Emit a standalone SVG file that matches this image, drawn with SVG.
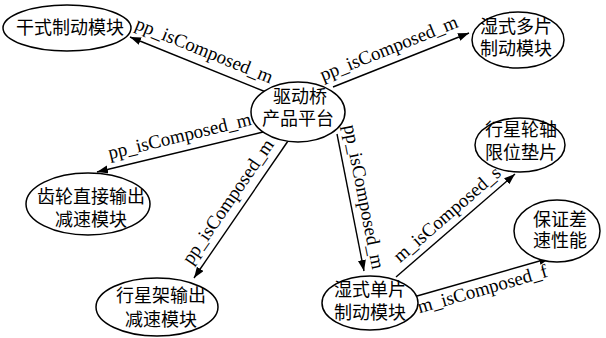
<svg xmlns="http://www.w3.org/2000/svg" width="606" height="338" viewBox="0 0 606 338">
<style>
.node ellipse{fill:#fff;stroke:#000;stroke-width:1.5}
.node text{font-family:"Liberation Serif","Noto Sans CJK SC",serif;font-size:18px;fill:#000;text-anchor:middle;dominant-baseline:central}
.edge line{stroke:#000;stroke-width:1.4;marker-end:url(#arr)}
.lbl{font-family:"Liberation Serif","Times New Roman",serif;font-size:19px;fill:#000;text-anchor:middle}
</style>
<defs>
<marker id="arr" markerUnits="userSpaceOnUse" markerWidth="12" markerHeight="9" refX="11" refY="4" orient="auto">
<path d="M0,0 L11,4 L0,8 z" fill="#000"/>
</marker>
</defs>
<rect width="606" height="338" fill="#fff"/>
<g id="connectors" class="edge">
<line x1="266" y1="92" x2="130" y2="37"/>
<line x1="333" y1="87" x2="469" y2="33"/>
<line x1="263" y1="132" x2="97" y2="172"/>
<line x1="288" y1="141" x2="194" y2="278"/>
<line x1="337" y1="134" x2="364" y2="271"/>
<line x1="396" y1="277" x2="515" y2="174"/>
<line x1="417" y1="296" x2="550" y2="258"/>
<text class="lbl" transform="translate(202,56) rotate(22)">pp_isComposed_m</text>
<text class="lbl" transform="translate(391,54) rotate(-21.8)">pp_isComposed_m</text>
<text class="lbl" transform="translate(181,142) rotate(-13.5)">pp_isComposed_m</text>
<text class="lbl" transform="translate(233,205) rotate(-55.5)">pp_isComposed_m</text>
<text class="lbl" transform="translate(358,198) rotate(78.8)">pp_isComposed_m</text>
<text class="lbl" transform="translate(451,219) rotate(-40.9)">m_isComposed_s</text>
<text class="lbl" transform="translate(484,295) rotate(-15.9)">m_isComposed_f</text>
</g>
<g id="n-hub" class="node">
<ellipse cx="298" cy="112" rx="47" ry="30"/>
<text x="300" y="97">驱动桥</text>
<text x="298" y="119">产品平台</text>
</g>
<g id="n-dry" class="node">
<ellipse cx="67" cy="28" rx="64" ry="23"/>
<text x="70" y="28">干式制动模块</text>
</g>
<g id="n-wetmulti" class="node">
<ellipse cx="518" cy="40" rx="46" ry="28"/>
<text x="516" y="27">湿式多片</text>
<text x="516" y="49">制动模块</text>
</g>
<g id="n-gear" class="node">
<ellipse cx="88" cy="204" rx="62" ry="31"/>
<text x="91" y="197">齿轮直接输出</text>
<text x="91" y="220">减速模块</text>
</g>
<g id="n-carrier" class="node">
<ellipse cx="157" cy="307" rx="61" ry="29"/>
<text x="161" y="296">行星架输出</text>
<text x="161" y="320">减速模块</text>
</g>
<g id="n-wetsingle" class="node">
<ellipse cx="370" cy="303" rx="48" ry="27"/>
<text x="370" y="290">湿式单片</text>
<text x="370" y="313">制动模块</text>
</g>
<g id="n-shim" class="node">
<ellipse cx="520" cy="145" rx="45" ry="27"/>
<text x="521" y="130">行星轮轴</text>
<text x="521" y="153">限位垫片</text>
</g>
<g id="n-diff" class="node">
<ellipse cx="557" cy="231" rx="43" ry="31"/>
<text x="560" y="220">保证差</text>
<text x="560" y="241">速性能</text>
</g>
</svg>
